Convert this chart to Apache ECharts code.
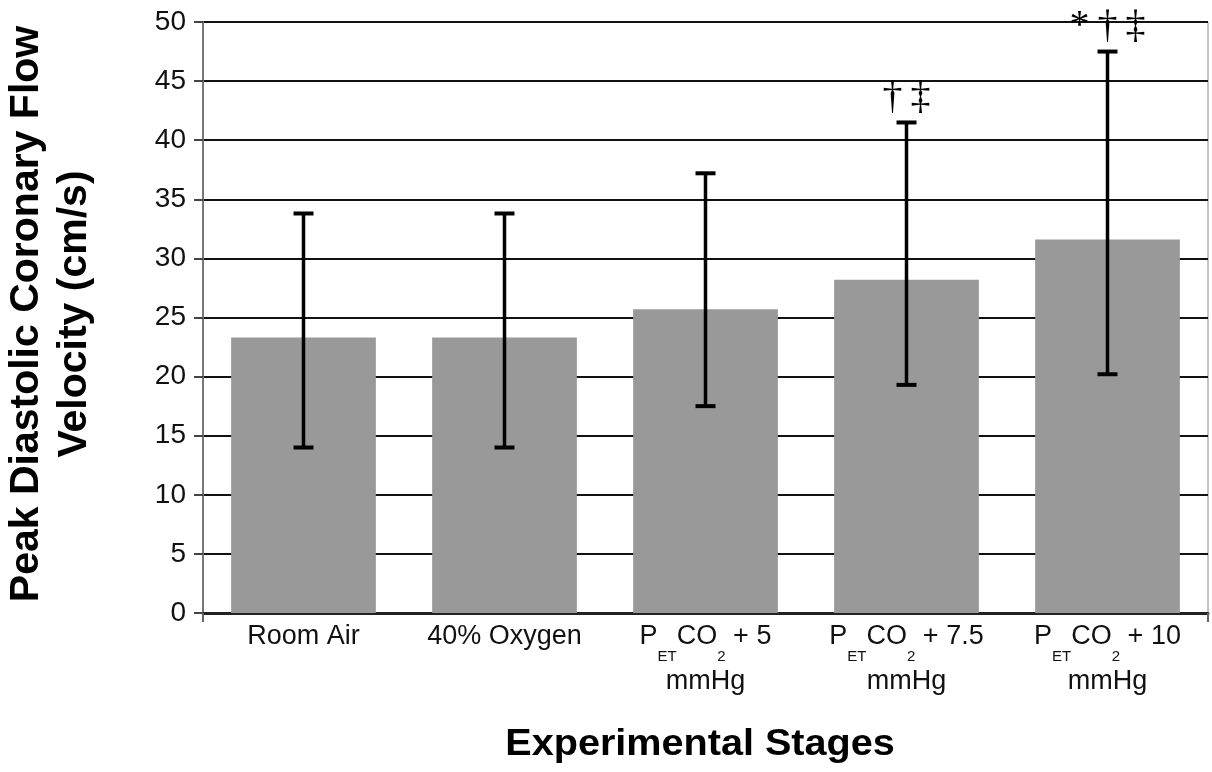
<!DOCTYPE html>
<html>
<head>
<meta charset="utf-8">
<script src="https://cdn.jsdelivr.net/npm/echarts@6/dist/echarts.min.js"></script>
<style>
html,body{margin:0;padding:0;background:#fff;}
#chart{width:1212px;height:772px;}
</style>
</head>
<body>
<div id="chart"></div>
<script>
// ---- data ----
var categories = ['Room Air', '40% Oxygen', 'PETCO2 + 5 mmHg', 'PETCO2 + 7.5 mmHg', 'PETCO2 + 10 mmHg'];
var categoryLabels = [
  '{n|Room Air}',
  '{n|40% Oxygen}',
  '{n|P}{s|ET}{n|CO}{s2|2}{n| + 5}\n{m|mmHg}',
  '{n|P}{s|ET}{n|CO}{s2|2}{n| + 7.5}\n{m|mmHg}',
  '{n|P}{s|ET}{n|CO}{s2|2}{n| + 10}\n{m|mmHg}'
];
var means = [23.3, 23.3, 25.7, 28.2, 31.6];
var upper = [33.8, 33.8, 37.2, 41.5, 47.5];
var lower = [14.0, 14.0, 17.5, 19.3, 20.2];
var annotations = ['', '', '', '\u2020\u2009\u2021', '*\u2009\u2020\u2009\u2021'];
var yTicks = [0, 5, 10, 15, 20, 25, 30, 35, 40, 45, 50];
var yTitle = 'Peak Diastolic Coronary Flow\nVelocity (cm/s)';
var xTitle = 'Experimental Stages';

var chart = echarts.init(document.getElementById('chart'), null, {renderer: 'canvas'});

var errData = categories.map(function (c, i) { return [i, lower[i], upper[i]]; });
var F = 'Liberation Sans';

var option = {
  backgroundColor: '#ffffff',
  animation: false,
  grid: {
    left: 203, right: 4, top: 22, bottom: 159,
    show: true, borderColor: '#8a8a8a', borderWidth: 1, backgroundColor: 'transparent'
  },
  xAxis: {
    type: 'category',
    data: categories,
    axisLine: { show: true, onZero: false, lineStyle: { color: '#222', width: 3 } },
    axisTick: { show: true, interval: function (i) { return i === 0; }, length: 9, lineStyle: { color: '#666', width: 2 } },
    axisLabel: {
      interval: 0,
      margin: 10,
      formatter: function (v, i) { return categoryLabels[i]; },
      rich: {
        n: { fontFamily: F, fontSize: 27, color: '#111', lineHeight: 41, verticalAlign: 'top' },
        s: { fontFamily: F, fontSize: 15, color: '#111', lineHeight: 15, verticalAlign: 'bottom' },
        s2: { fontFamily: F, fontSize: 15, color: '#111', lineHeight: 8, verticalAlign: 'bottom' },
        m: { fontFamily: F, fontSize: 27, color: '#111', lineHeight: 36, verticalAlign: 'middle' }
      }
    }
  },
  yAxis: {
    type: 'value',
    min: 0, max: 50, interval: 5,
    axisLine: { show: true, lineStyle: { color: '#777', width: 2 } },
    axisTick: { show: true, length: 9, lineStyle: { color: '#444', width: 2 } },
    axisLabel: {
      margin: 17, fontFamily: F, fontSize: 28, color: '#111',
      formatter: function (v) { return yTicks.indexOf(v) >= 0 ? String(v) : ''; }
    },
    splitLine: { show: true, lineStyle: { color: '#111', width: 2 } }
  },
  graphic: [
    {
      type: 'text', x: 51, y: 314, rotation: Math.PI / 2,
      style: {
        text: yTitle, align: 'center', verticalAlign: 'middle',
        fontFamily: F, fontSize: 41, fontWeight: 'bold', lineHeight: 48, fill: '#000'
      }
    },
    {
      type: 'text', x: 700, y: 745, scaleX: 1.07,
      style: {
        text: xTitle, align: 'center', verticalAlign: 'middle',
        fontFamily: F, fontSize: 37, fontWeight: 'bold', fill: '#000'
      }
    }
  ],
  series: [
    {
      type: 'bar',
      data: means,
      barCategoryGap: '28%',
      itemStyle: { color: '#999999' },
      z: 2
    },
    {
      type: 'custom',
      data: errData,
      z: 5,
      encode: { x: 0, y: [1, 2] },
      renderItem: function (params, api) {
        var i = api.value(0);
        var top = api.coord([i, api.value(2)]);
        var bot = api.coord([i, api.value(1)]);
        var cap = 10;
        var children = [
          { type: 'line', shape: { x1: top[0], y1: top[1], x2: bot[0], y2: bot[1] }, style: { stroke: '#000', lineWidth: 3.5 } },
          { type: 'line', shape: { x1: top[0] - cap, y1: top[1], x2: top[0] + cap, y2: top[1] }, style: { stroke: '#000', lineWidth: 4 } },
          { type: 'line', shape: { x1: bot[0] - cap, y1: bot[1], x2: bot[0] + cap, y2: bot[1] }, style: { stroke: '#000', lineWidth: 4 } }
        ];
        var ann = annotations[i];
        if (ann) {
          children.push({
            type: 'text',
            x: top[0], y: top[1] - 5,
            style: {
              text: ann, x: 0, y: 0,
              textAlign: 'center', textVerticalAlign: 'bottom',
              fontFamily: 'Liberation Serif', fontSize: 40, fill: '#000'
            }
          });
        }
        return { type: 'group', children: children };
      }
    }
  ]
};
chart.setOption(option);
</script>
</body>
</html>
